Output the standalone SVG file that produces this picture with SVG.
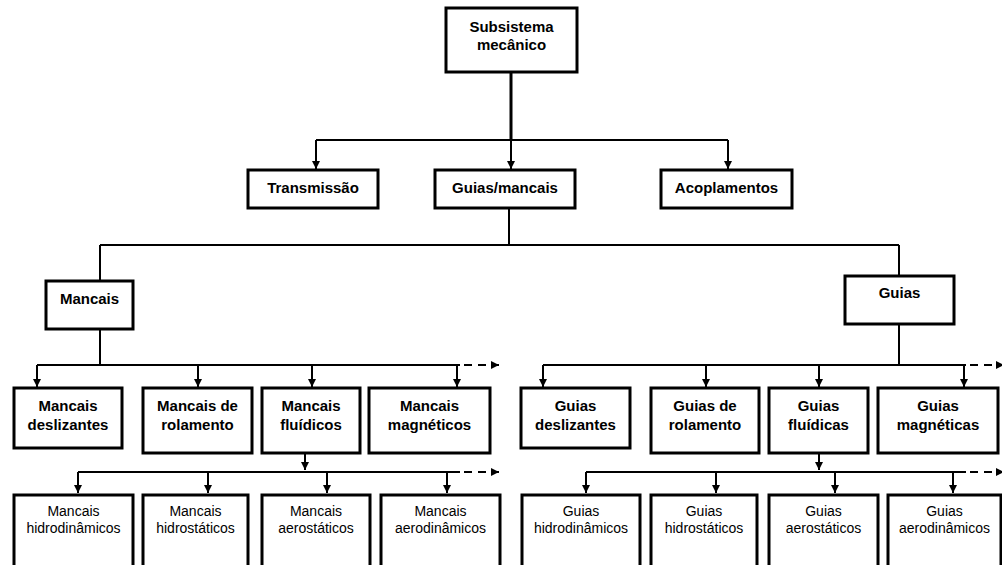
<svg xmlns="http://www.w3.org/2000/svg" width="1002" height="565" viewBox="0 0 1002 565">
<style>
.box{fill:#fff;stroke:#000;stroke-width:3}
.b{font-family:"Liberation Sans",Arial,sans-serif;font-weight:bold;font-size:15px;fill:#000;text-anchor:middle}
.r{font-family:"Liberation Sans",Arial,sans-serif;font-size:14px;fill:#000;text-anchor:middle}
.ln{fill:none;stroke:#000;stroke-width:2}
.ar{fill:none;stroke:#000;stroke-width:2;marker-end:url(#ah)}
.da{fill:none;stroke:#000;stroke-width:2;stroke-dasharray:8 6;marker-end:url(#ah)}
</style>
<defs>
<marker id="ah" viewBox="0 0 8 8" refX="8" refY="4" markerWidth="8" markerHeight="8" markerUnits="userSpaceOnUse" orient="auto"><path d="M0,0 L8,4 L0,8 z" fill="#000"/></marker>
</defs>
<rect width="1002" height="565" fill="#fff"/>
<g id="connectors">
<path class="ln" d="M511,72 V140" style="stroke-width:3"/>
<path class="ln" d="M316,140 H728"/>
<path class="ar" d="M316,140 V169"/>
<path class="ar" d="M511,140 V169"/>
<path class="ar" d="M728,140 V169"/>
<path class="ln" d="M509,208 V245 M100,245 H899 M100,245 V281 M899,245 V276"/>
<path class="ln" d="M100,329 V365 M37,365 H460"/>
<path class="ar" d="M37,365 V387"/>
<path class="ar" d="M198,365 V387"/>
<path class="ar" d="M312,365 V387"/>
<path class="ar" d="M457,365 V387"/>
<path class="da" d="M464,365 H499"/>
<path class="ln" d="M899,324 V365 M543,365 H966"/>
<path class="ar" d="M543,365 V387"/>
<path class="ar" d="M706,365 V387"/>
<path class="ar" d="M819,365 V387"/>
<path class="ar" d="M964,365 V387"/>
<path class="da" d="M970,365 H1004"/>
<path class="ar" d="M305,453 V470"/>
<path class="ln" d="M78,472 H460"/>
<path class="ar" d="M78,472 V493"/>
<path class="ar" d="M208,472 V493"/>
<path class="ar" d="M327,472 V493"/>
<path class="ar" d="M447,472 V493"/>
<path class="da" d="M464,472 H499"/>
<path class="ar" d="M819,453 V470"/>
<path class="ln" d="M586,472 H966"/>
<path class="ar" d="M586,472 V493"/>
<path class="ar" d="M716,472 V493"/>
<path class="ar" d="M835,472 V493"/>
<path class="ar" d="M953,472 V493"/>
<path class="da" d="M970,472 H1004"/>
</g>
<g id="subsistema"><rect class="box" x="446" y="8" width="131" height="64"/><text class="b" x="511.5" y="32">Subsistema</text><text class="b" x="511.5" y="50">mecânico</text></g>
<g id="transmissao"><rect class="box" x="248" y="170" width="130" height="38"/><text class="b" x="313" y="193">Transmissão</text></g>
<g id="guiasmancais"><rect class="box" x="435" y="170" width="140" height="38"/><text class="b" x="505" y="193">Guias/mancais</text></g>
<g id="acoplamentos"><rect class="box" x="661" y="170" width="131" height="38"/><text class="b" x="726.5" y="193">Acoplamentos</text></g>
<g id="mancais"><rect class="box" x="46" y="281" width="87" height="48"/><text class="b" x="89.5" y="304">Mancais</text></g>
<g id="guias"><rect class="box" x="845" y="276" width="109" height="48"/><text class="b" x="899.5" y="298">Guias</text></g>
<g id="m-desl"><rect class="box" x="14" y="388" width="108" height="60"/><text class="b" x="68" y="411">Mancais</text><text class="b" x="68" y="430">deslizantes</text></g>
<g id="m-rol"><rect class="box" x="143" y="388" width="109" height="65"/><text class="b" x="197.5" y="411">Mancais de</text><text class="b" x="197.5" y="430">rolamento</text></g>
<g id="m-flu"><rect class="box" x="262" y="388" width="98" height="65"/><text class="b" x="311" y="411">Mancais</text><text class="b" x="311" y="430">fluídicos</text></g>
<g id="m-mag"><rect class="box" x="369" y="388" width="121" height="65"/><text class="b" x="429.5" y="411">Mancais</text><text class="b" x="429.5" y="430">magnéticos</text></g>
<g id="g-desl"><rect class="box" x="521" y="388" width="109" height="60"/><text class="b" x="575.5" y="411">Guias</text><text class="b" x="575.5" y="430">deslizantes</text></g>
<g id="g-rol"><rect class="box" x="651" y="388" width="108" height="65"/><text class="b" x="705" y="411">Guias de</text><text class="b" x="705" y="430">rolamento</text></g>
<g id="g-flu"><rect class="box" x="769" y="388" width="99" height="65"/><text class="b" x="818.5" y="411">Guias</text><text class="b" x="818.5" y="430">fluídicas</text></g>
<g id="g-mag"><rect class="box" x="878" y="388" width="120" height="65"/><text class="b" x="938" y="411">Guias</text><text class="b" x="938" y="430">magnéticas</text></g>
<g id="m-hd"><rect class="box" x="14" y="495" width="119" height="85"/><text class="r" x="73.5" y="516">Mancais</text><text class="r" x="73.5" y="533">hidrodinâmicos</text></g>
<g id="m-hs"><rect class="box" x="143" y="495" width="105" height="85"/><text class="r" x="195.5" y="516">Mancais</text><text class="r" x="195.5" y="533">hidrostáticos</text></g>
<g id="m-as"><rect class="box" x="262" y="495" width="108" height="85"/><text class="r" x="316" y="516">Mancais</text><text class="r" x="316" y="533">aerostáticos</text></g>
<g id="m-ad"><rect class="box" x="381" y="495" width="119" height="85"/><text class="r" x="440.5" y="516">Mancais</text><text class="r" x="440.5" y="533">aerodinâmicos</text></g>
<g id="g-hd"><rect class="box" x="522" y="495" width="118" height="85"/><text class="r" x="581" y="516">Guias</text><text class="r" x="581" y="533">hidrodinâmicos</text></g>
<g id="g-hs"><rect class="box" x="651" y="495" width="106" height="85"/><text class="r" x="704" y="516">Guias</text><text class="r" x="704" y="533">hidrostáticos</text></g>
<g id="g-as"><rect class="box" x="769" y="495" width="109" height="85"/><text class="r" x="823.5" y="516">Guias</text><text class="r" x="823.5" y="533">aerostáticos</text></g>
<g id="g-ad"><rect class="box" x="888" y="495" width="113" height="85"/><text class="r" x="944.5" y="516">Guias</text><text class="r" x="944.5" y="533">aerodinâmicos</text></g>
</svg>
